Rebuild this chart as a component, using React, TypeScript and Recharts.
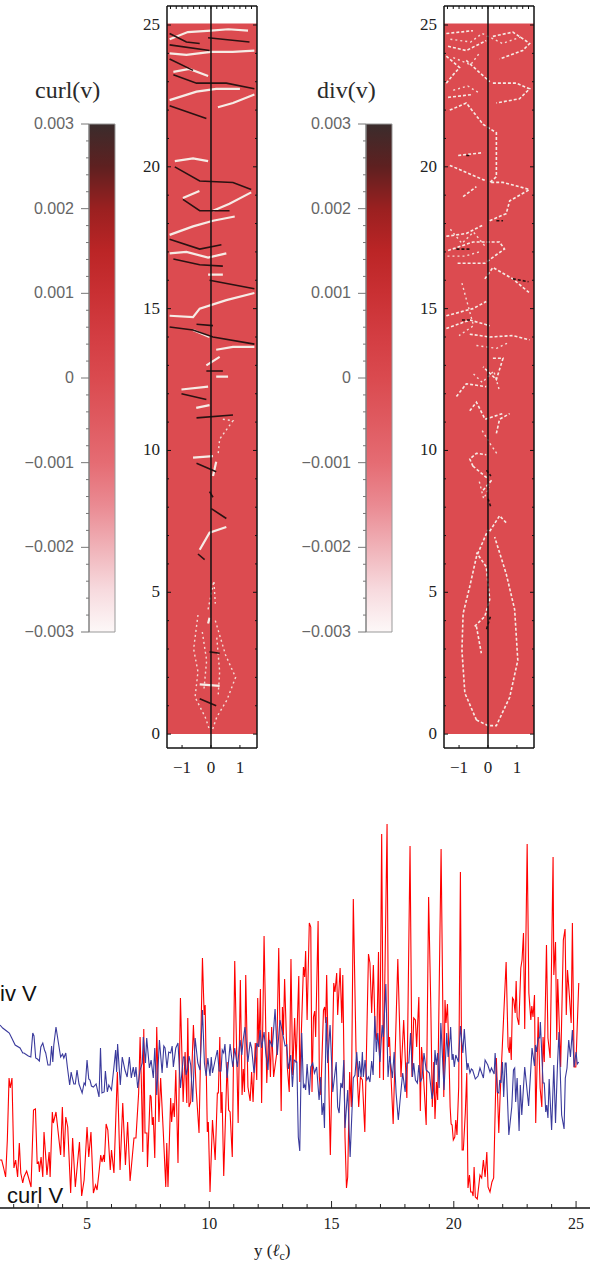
import React from 'react';
import { BarChart, Bar, LineChart, Line, XAxis, YAxis, ReferenceArea, ReferenceLine } from 'recharts';

// bottom chart: position along y (in l_c) and signal height
const curlAt = [1.44,1.51,1.58,1.67,1.74,1.81,1.86,1.93,2.01,2.08,2.16,2.23,2.29,2.37,2.42,2.53,2.6,2.71,2.81,2.89,2.96,3.02,3.05,3.12,3.19,3.24,3.32,3.36,3.45,3.49,3.58,3.62,3.73,3.84,3.92,3.99,4.06,4.13,4.21,4.33,4.41,4.52,4.69,4.78,4.88,5,5.07,5.16,5.26,5.35,5.41,5.49,5.56,5.61,5.68,5.71,5.78,5.85,5.95,6,6.1,6.24,6.35,6.46,6.57,6.66,6.76,6.92,7,7.11,7.17,7.22,7.28,7.32,7.37,7.45,7.47,7.58,7.62,7.67,7.71,7.77,7.85,7.94,8.01,8.12,8.22,8.26,8.31,8.42,8.46,8.52,8.57,8.63,8.72,8.82,8.93,9.01,9.08,9.12,9.17,9.24,9.35,9.46,9.58,9.72,9.79,9.83,9.92,9.96,10.03,10.13,10.24,10.33,10.37,10.43,10.48,10.52,10.59,10.73,10.79,10.85,10.94,11.04,11.18,11.27,11.34,11.39,11.44,11.49,11.58,11.67,11.73,11.79,11.88,11.94,11.98,12.03,12.09,12.14,12.24,12.35,12.43,12.5,12.55,12.63,12.76,12.84,12.94,12.99,13.03,13.08,13.19,13.27,13.34,13.41,13.49,13.55,13.66,13.7,13.85,13.9,13.94,14,14.09,14.15,14.2,14.26,14.31,14.35,14.45,14.5,14.56,14.67,14.72,14.76,14.8,14.87,14.95,15.09,15.14,15.21,15.25,15.35,15.42,15.46,15.55,15.61,15.66,15.74,15.81,15.89,16,16.11,16.18,16.26,16.36,16.51,16.57,16.64,16.71,16.78,16.85,16.92,16.97,17.05,17.12,17.27,17.33,17.37,17.42,17.52,17.71,17.84,17.95,18.08,18.21,18.29,18.36,18.43,18.48,18.57,18.63,18.68,18.73,18.87,18.97,19.06,19.12,19.18,19.23,19.29,19.34,19.48,19.59,19.64,19.68,19.74,19.81,19.85,19.89,19.93,19.98,20.04,20.08,20.13,20.2,20.27,20.34,20.39,20.47,20.53,20.58,20.64,20.69,20.75,20.79,20.83,20.88,20.96,21.07,21.14,21.21,21.28,21.35,21.4,21.48,21.56,21.63,21.74,21.84,21.89,21.99,22.14,22.22,22.27,22.3,22.35,22.4,22.45,22.51,22.55,22.59,22.66,22.74,22.79,22.85,22.9,23,23.07,23.15,23.19,23.24,23.3,23.35,23.45,23.53,23.6,23.65,23.7,23.79,23.85,23.94,24.06,24.09,24.16,24.21,24.25,24.37,24.48,24.55,24.6,24.65,24.73,24.8,24.85,24.92,24.99,25.11];
const curlValues = [48,48,41,31,68,130,120,130,40,48,31,65,35,25,31,37,31,21,98,99,45,46,36,51,31,76,48,33,56,31,96,85,96,71,53,101,51,91,81,15,70,21,66,12,28,81,51,76,15,23,18,36,53,46,53,46,84,78,38,58,35,136,38,105,43,86,27,70,70,115,171,128,56,179,75,75,41,113,111,83,91,50,181,86,130,75,21,65,21,110,86,105,91,138,45,210,106,156,105,190,101,106,183,120,75,250,193,203,76,86,16,88,48,115,115,171,95,116,32,146,98,96,51,247,85,228,113,139,116,233,121,107,136,106,165,128,210,161,219,105,272,125,176,131,181,131,155,260,97,201,173,229,141,116,249,133,190,145,232,126,241,231,257,188,285,281,116,191,197,171,287,131,113,198,201,185,233,145,53,225,216,235,193,240,185,233,71,20,31,136,101,309,158,101,131,128,76,254,245,195,243,178,168,256,130,374,128,384,161,171,138,84,249,131,188,110,362,131,190,188,161,211,97,161,145,83,311,201,101,146,89,126,108,359,111,208,185,204,145,101,84,83,68,71,88,73,121,336,58,58,95,135,20,33,16,16,12,41,11,9,33,30,48,31,56,21,16,26,30,150,75,110,165,246,161,155,171,148,210,208,195,227,191,183,240,248,275,179,364,215,188,202,191,213,85,191,120,101,171,146,263,170,150,351,233,266,168,229,141,268,279,193,238,211,185,285,141,141,225];

const divAt = [1.44,1.55,1.71,1.82,1.92,2.06,2.26,2.37,2.42,2.6,2.7,2.78,2.83,2.9,2.97,3.05,3.11,3.19,3.26,3.31,3.4,3.49,3.55,3.6,3.64,3.73,3.83,3.92,4,4.05,4.13,4.2,4.29,4.35,4.4,4.46,4.52,4.59,4.67,4.8,4.88,4.93,5,5.07,5.12,5.18,5.26,5.37,5.49,5.55,5.61,5.7,5.75,5.83,5.89,6,6.1,6.17,6.21,6.25,6.36,6.44,6.55,6.64,6.73,6.81,6.89,6.95,7,7.07,7.17,7.26,7.3,7.39,7.44,7.55,7.62,7.71,7.77,7.85,7.96,8.07,8.14,8.19,8.27,8.34,8.42,8.48,8.53,8.63,8.72,8.82,8.94,8.99,9.05,9.12,9.17,9.24,9.32,9.42,9.53,9.62,9.72,9.8,9.87,9.94,10.03,10.08,10.13,10.24,10.33,10.4,10.48,10.53,10.59,10.64,10.73,10.85,10.96,11.04,11.15,11.26,11.33,11.39,11.46,11.58,11.67,11.73,11.83,11.94,12.01,12.08,12.14,12.24,12.31,12.4,12.46,12.58,12.69,12.78,12.89,13.03,13.1,13.17,13.23,13.33,13.4,13.47,13.58,13.64,13.7,13.78,13.85,13.9,13.94,14,14.09,14.15,14.23,14.3,14.39,14.49,14.56,14.61,14.67,14.71,14.78,14.84,14.94,15.05,15.19,15.25,15.31,15.38,15.44,15.5,15.55,15.66,15.76,15.89,15.96,16.03,16.1,16.14,16.21,16.26,16.3,16.37,16.44,16.51,16.57,16.64,16.7,16.77,16.83,16.89,16.98,17.07,17.12,17.22,17.31,17.38,17.49,17.56,17.64,17.73,17.83,17.91,18.01,18.08,18.16,18.23,18.31,18.36,18.43,18.51,18.57,18.63,18.7,18.78,18.87,19,19.11,19.17,19.23,19.28,19.34,19.4,19.47,19.6,19.71,19.77,19.85,19.87,19.93,19.97,20.02,20.08,20.19,20.27,20.37,20.43,20.54,20.58,20.66,20.72,20.77,20.88,20.99,21.07,21.21,21.28,21.39,21.48,21.54,21.65,21.69,21.78,21.84,21.88,21.93,21.99,22.04,22.1,22.14,22.25,22.37,22.44,22.49,22.53,22.59,22.67,22.72,22.78,22.9,23.06,23.2,23.3,23.34,23.38,23.45,23.51,23.54,23.65,23.7,23.76,23.8,23.85,23.9,24,24.09,24.16,24.24,24.3,24.41,24.51,24.56,24.63,24.7,24.77,24.85,24.92,25,25.05,25.11];
const divValues = [183,180,177,175,170,163,160,155,155,152,151,175,172,150,149,147,161,165,158,155,143,143,162,146,163,181,165,151,154,150,155,140,123,136,130,124,124,138,124,115,125,123,148,129,128,122,121,124,111,160,115,116,137,116,123,118,141,158,136,164,123,151,138,131,151,130,141,131,141,120,138,145,171,145,170,140,148,130,160,113,168,135,162,160,140,156,155,162,141,160,165,120,151,151,133,140,152,143,106,170,145,138,198,145,132,150,132,151,135,148,158,137,137,158,155,164,130,164,141,160,141,168,153,169,181,146,166,160,135,165,161,178,160,176,155,138,168,161,199,153,188,171,162,163,139,153,121,148,146,71,57,175,120,123,118,144,113,141,145,135,141,108,131,93,105,80,191,145,183,116,146,101,95,125,120,148,80,118,51,130,133,156,131,147,131,156,131,148,128,131,126,147,133,192,156,175,146,183,171,224,131,152,130,156,115,88,115,135,116,145,145,175,131,145,128,125,143,126,130,155,138,135,109,118,158,143,155,120,185,118,175,151,171,181,148,154,141,153,146,182,155,179,138,145,135,139,138,129,132,140,130,148,143,136,140,134,155,116,115,128,125,146,111,145,145,73,101,138,140,106,130,77,123,93,141,102,160,142,163,156,170,170,186,125,125,96,103,90,129,78,143,85,143,176,93,79,130,140,168,151,178,141,156,144,146];

const lineTicks = [2,3,4,5,6,7,8,9,10,11,12,13,14,15,16,17,18,19,20,21,22,23,24,25];
const lineLabels = [5,10,15,20,25];

// colour bars
const barTicks = [-0.003,-0.0028,-0.0026,-0.0024,-0.0022,-0.002,-0.0018,-0.0016,-0.0014,-0.0012,-0.001,-0.0008,-0.0006,-0.0004,-0.0002,0,0.0002,0.0004,0.0006,0.0008,0.001,0.0012,0.0014,0.0016,0.0018,0.002,0.0022,0.0024,0.0026,0.0028,0.003];
const barLabels = [-0.003,-0.002,-0.001,0,0.001,0.002,0.003];
const barStops = ['#3a2c2c','#5e2020','#9a2020','#bb2526','#c93033','#d33d42','#da4a4f','#df5a60','#e56c73','#ea8a92','#f0b2b8','#f7dade','#fdf8f8'];

// map panels: transverse x and y (l_c)
const panelYTicks = [0,1,2,3,4,5,6,7,8,9,10,11,12,13,14,15,16,17,18,19,20,21,22,23,24,25];
const panelYLabels = [0,5,10,15,20,25];
const panelXLabels = [-1,0,1];
const panelTopTicks = [-1.4,-1.2,-1,-0.8,-0.6,-0.4,-0.2,0,0.2,0.4,0.6,0.8,1,1.2,1.4];

const curlBright = [
  [[-1.43,24.5],[-0.8,24.75],[0,24.8],[0.6,24.85],[1.28,24.8]],
  [[-1.43,24.0],[-0.85,23.95],[0,24.05],[0.75,24.05],[1.5,24.1]],
  [[-1.3,23.35],[-0.75,23.45],[-0.1,23.2]],
  [[-1.43,22.35],[-0.5,22.65],[0.18,22.75],[1,22.75]],
  [[0.24,22.1],[0.76,22.25],[1.5,22.55]],
  [[-1.25,20.2],[-0.62,20.3],[-0.1,20.2]],
  [[-0.97,18.9],[-0.4,19.15]],
  [[0.07,18.45],[0.64,18.7],[1.39,19.1]],
  [[-1.43,17.6],[-0.62,17.9],[0.07,18.1],[0.82,18.25]],
  [[-1.43,16.95],[-0.85,17],[-0.1,16.8],[0.53,16.95]],
  [[-0.1,16.2],[0.41,16.2]],
  [[-1.43,14.75],[-0.62,14.7],[-0.39,15],[0.53,15.3],[1.5,15.55]],
  [[-0.62,14.25],[-0.05,14]],
  [[0.18,13.55],[0.76,13.65],[1.5,13.65]],
  [[-0.16,13],[0.3,13.3]],
  [[0.18,12.6],[0.59,12.6]],
  [[-1.02,12.15],[-0.1,12.25]],
  [[-0.51,11.5],[-0.05,11.6]],
  [[-0.62,9.75],[0.07,9.8]],
  [[0.07,9.1],[0.18,9.6]],
  [[-0.39,6.5],[-0.05,7.1],[0.53,7.3]],
  [[-0.1,3.9],[-0.05,4.1]],
  [[-0.39,1.75],[0.3,1.7]],
];
const curlSpeckle = [
  [[0.41,11.1],[0.76,11.05],[0.3,10.4],[0.25,9.9]],
  [[-0.1,4.4],[0.1,5.4],[0.15,4.6]],
  [[-0.45,4.2],[-0.6,3],[-0.45,2.2],[-0.55,1.3],[-0.2,0.6],[-0.05,0.15]],
  [[0.15,4],[0.5,2.8],[0.85,2],[0.55,1.2],[0.2,0.6],[0.05,0.15]],
  [[-0.3,3.6],[-0.15,2.6],[-0.25,1.5]],
  [[0.2,3.4],[0.3,2.2],[0.25,1.4]],
];
const curlDark = [
  [[-1.43,24.7],[-0.85,24.4],[-0.39,24.35]],
  [[-0.1,24.55],[1.33,24.4]],
  [[-1.43,24.3],[-0.05,24.1]],
  [[-1.43,23.8],[-0.62,23.4]],
  [[-1.3,23.25],[-0.5,22.95],[0.53,22.95],[1.5,22.75]],
  [[-1.43,22.15],[-0.16,21.7]],
  [[-1.25,20],[-0.39,19.5],[0.76,19.45],[1.39,19.2]],
  [[-0.97,18.85],[-0.39,18.45],[0.64,18.45]],
  [[-1.43,17.45],[-0.39,17.1],[0.36,17.25]],
  [[-1.3,16.75],[-0.39,16.55],[0.41,16.5]],
  [[-0.05,16],[1.5,15.7]],
  [[-1.43,14.35],[-0.62,14.25],[0.07,14],[1.5,13.75]],
  [[-0.5,14.45],[0.07,14.4]],
  [[-0.16,12.8],[0.41,12.8]],
  [[-1.02,12],[-0.16,11.8]],
  [[-0.5,11.15],[0.76,11.25]],
  [[-0.5,9.55],[0.18,9.25]],
  [[-0.05,8.55],[0.07,8.35]],
  [[0.01,7.95],[0.53,7.6]],
  [[-0.45,6.35],[-0.22,6.15]],
  [[-0.05,2.9],[0.3,2.85]],
  [[-0.39,1.25],[0.18,1]],
];

const divBright = [
  [[-1.44,24.7],[-0.52,24.8]],
  [[-1.38,24.25],[-0.75,24.1],[-0.06,24.45]],
  [[0.17,24.6],[0.86,24.75],[1.44,24.35],[1.2,24.1],[0.4,23.8]],
  [[-1.44,23.9],[-0.98,23.5],[-1.2,23.25],[-1.44,22.95]],
  [[-0.75,23.75],[0.06,23]],
  [[0.17,22.95],[0.98,22.95],[1.44,22.75],[1.09,22.4],[0.29,22.25]],
  [[-1.38,22.45],[-0.52,22.55]],
  [[-1.32,22],[-0.75,22.25],[-0.17,21.5],[0.29,21.2],[0.29,19.65],[0.06,19.45],[0.52,19.45],[1.44,19.2]],
  [[-1.03,20.4],[-0.17,20.5]],
  [[-1.32,20.05],[-0.63,19.75],[-0.06,19.5]],
  [[-0.86,18.95],[-0.4,19.3]],
  [[0.06,18.1],[0.63,18.35],[0.75,18.8],[1.44,19.2]],
  [[-1.44,17.55],[-0.75,17.65],[-0.17,17.95]],
  [[-1.38,17.05],[-0.52,17.35],[0.4,17.35],[0.57,17.1],[0.29,16.9],[-0.11,16.6],[-1.09,16.6]],
  [[-0.11,16.05],[0.17,16.45],[0.86,16.05],[1.44,15.55]],
  [[-1.44,14.75],[-0.52,15],[-0.06,15.25]],
  [[-1.44,14.3],[-0.63,14.6],[0.06,14.4]],
  [[-0.63,14.1],[0.06,14],[0.86,14.05],[1.44,13.9]],
  [[0.17,13.25],[0.52,13.25],[0.29,12.5],[-0.17,12.95]],
  [[-1.09,11.9],[-0.75,12.35],[-0.06,12.25]],
  [[-0.63,11.4],[-0.4,11.7],[-0.1,11.1],[0.5,11.3]],
  [[0.29,10.6],[0.4,11.1],[0.75,11.3]],
  [[-0.52,9.45],[-0.63,9.7],[-0.4,9.9],[-0.06,9.85]],
  [[-0.52,9.45],[0,9]],
  [[-0.17,8.6],[0.17,9]],
  [[0.06,7.15],[0.4,7.7],[0.63,7.45]],
  [[-0.4,0.5],[-0.8,1.45],[-0.9,2.95],[-0.86,4.25],[-0.63,5.2],[-0.4,6.25],[0,7.2]],
  [[-0.4,0.5],[0,0.3],[0.29,0.3],[0.75,1.3],[1.03,2.6],[0.92,4.4],[0.63,5.65],[0.23,6.95]],
  [[-0.46,3.8],[-0.11,4.15],[0.06,4.75],[-0.06,5.9],[-0.4,6.4]],
  [[-0.4,3.8],[-0.23,2.85]],
];
const divSpeckle = [
  [[-1.3,24.5],[-0.6,24.4],[-0.2,24.7],[0.5,24.35],[1.2,24.6]],
  [[-1.2,23.85],[-0.6,23.6],[-0.3,24]],
  [[-1.2,22.7],[-0.7,22.85],[-0.3,22.6]],
  [[-1.3,17.8],[-0.9,17.3],[-0.5,17.7],[-0.1,17.2]],
  [[-1.4,16.85],[-0.8,16.85],[-0.3,17]],
  [[-0.9,15.9],[-0.5,14.4],[-1,14.05]],
  [[-0.4,13.7],[0.3,13.6],[0.7,13.8]],
  [[-0.5,12.7],[-0.2,12.4],[0.2,12.8],[0.4,12.1]],
  [[-0.2,10.7],[0.1,10.2],[0.3,9.9]],
  [[-0.3,8.9],[-0.15,8.3],[0.05,8.7]],
];
const divDark = [
  [[-1.09,17.1],[-0.63,17.1]],
  [[-0.75,20.4],[-0.58,20.4]],
  [[0.29,18.1],[0.52,18.1]],
  [[0.86,16.05],[1.4,15.95]],
  [[-0.9,14.6],[-0.6,14.6]],
  [[-0.05,9.3],[0.1,9.1]],
  [[0,8.3],[0.1,8]],
  [[-0.05,3.7],[0.1,4.2]],
];

const serif = '"Liberation Serif", serif';
const sans = '"Liberation Sans", sans-serif';

// segments to one table, a null row breaks the line
const toRows = (segments: number[][][]) =>
  segments.flatMap((seg) => [
    ...seg.map(([u, v]) => ({ u, v })),
    { u: seg[seg.length - 1][0], v: null as number | null },
  ]);

const zip = (at: number[], values: number[]) => at.map((y, i) => ({ y, value: values[i] }));

const curlRows = zip(curlAt, curlValues);
const divRows = zip(divAt, divValues);

function LineTick({ x, y, payload }: any) {
  const major = lineLabels.includes(payload.value);
  return (
    <g>
      <line x1={x} x2={x} y1={y} y2={y - (major ? 7 : 4)} stroke="#222" strokeWidth={1} />
      {major && (
        <text x={x} y={y + 21} textAnchor="middle" fontFamily={serif} fontSize={16} fill="#222">
          {payload.value}
        </text>
      )}
    </g>
  );
}

function PanelLeftTick({ x, y, payload }: any) {
  const major = panelYLabels.includes(payload.value);
  return (
    <g>
      <line x1={x} x2={x + (major ? 4 : 2)} y1={y} y2={y} stroke="#111" strokeWidth={1} />
      {major && (
        <text x={x - 7} y={y + 5} textAnchor="end" fontFamily={serif} fontSize={17} fill="#222">
          {payload.value}
        </text>
      )}
    </g>
  );
}

function PanelRightTick({ x, y, payload }: any) {
  return <line x1={x} x2={x - (panelYLabels.includes(payload.value) ? 4 : 2)} y1={y} y2={y} stroke="#111" strokeWidth={1} />;
}

function PanelBottomTick({ x, y, payload }: any) {
  return (
    <g>
      <line x1={x} x2={x} y1={y} y2={y - 3} stroke="#111" strokeWidth={1} />
      <text x={x} y={y + 25} textAnchor="middle" fontFamily={serif} fontSize={17} fill="#222">
        {payload.value < 0 ? `\u2212${-payload.value}` : payload.value}
      </text>
    </g>
  );
}

function PanelTopTick({ x, y }: any) {
  return <line x1={x} x2={x} y1={y} y2={y + 3} stroke="#111" strokeWidth={1} />;
}

function BarTick({ x, y, payload }: any) {
  const major = barLabels.some((m) => Math.abs(m - payload.value) < 1e-7);
  const v = payload.value;
  const text = Math.abs(v) < 1e-7 ? '0' : `${v < 0 ? '\u2212' : ''}${Math.abs(v).toFixed(3)}`;
  return (
    <g>
      <line x1={x} x2={x - (major ? 8 : 3)} y1={y} y2={y} stroke="#777" strokeWidth={1} />
      {major && (
        <text x={x - 15} y={y + 5} textAnchor="end" fontFamily={sans} fontSize={16} fill="#666">
          {text}
        </text>
      )}
    </g>
  );
}

function ColorBar({ left, id, title, titleLeft }: { left: number; id: string; title: string; titleLeft: number }) {
  return (
    <>
      <div style={{ position: 'absolute', left: titleLeft, top: 76, fontFamily: serif, fontSize: 24, color: '#2a2a2a', lineHeight: '28px' }}>
        {title}
      </div>
      <div style={{ position: 'absolute', left, top: 0 }}>
        <BarChart
          width={118}
          height={640}
          data={[{ name: id, range: [-0.003, 0.003] }]}
          margin={{ top: 124, right: 3, bottom: 8, left: 0 }}
          barCategoryGap={0}
        >
          <defs>
            <linearGradient id={id} x1="0" y1="0" x2="0" y2="1">
              {barStops.map((c, i) => (
                <stop key={c} offset={i / (barStops.length - 1)} stopColor={c} />
              ))}
            </linearGradient>
          </defs>
          <XAxis dataKey="name" hide />
          <YAxis
            width={89}
            domain={[-0.003, 0.003]}
            ticks={barTicks}
            interval={0}
            tickSize={0}
            tickMargin={0}
            tick={<BarTick />}
            axisLine={{ stroke: '#777' }}
          />
          <Bar dataKey="range" fill={`url(#${id})`} stroke="#999" strokeWidth={1} isAnimationActive={false} />
        </BarChart>
      </div>
    </>
  );
}

function Panel({ left, bright, dark, speckle, dash }: { left: number; bright: number[][][]; dark: number[][][]; speckle: number[][][]; dash?: string }) {
  return (
    <div style={{ position: 'absolute', left, top: 0 }}>
      <LineChart width={129} height={790} margin={{ top: 5, right: 1, bottom: 0, left: 0 }}>
        <XAxis
          xAxisId="b"
          dataKey="u"
          type="number"
          domain={[-1.52, 1.59]}
          ticks={panelXLabels}
          interval={0}
          height={42}
          tickSize={0}
          tickMargin={0}
          tick={<PanelBottomTick />}
          axisLine={{ stroke: '#111', strokeWidth: 1.5 }}
          allowDataOverflow
        />
        <XAxis
          xAxisId="t"
          orientation="top"
          dataKey="u"
          type="number"
          domain={[-1.52, 1.59]}
          ticks={panelTopTicks}
          interval={0}
          height={1}
          tickSize={0}
          tickMargin={0}
          tick={<PanelTopTick />}
          axisLine={{ stroke: '#111', strokeWidth: 1.5 }}
          allowDataOverflow
        />
        <YAxis
          yAxisId="l"
          type="number"
          domain={[-0.49, 25.67]}
          ticks={panelYTicks}
          interval={0}
          width={37}
          tickSize={0}
          tickMargin={0}
          tick={<PanelLeftTick />}
          axisLine={{ stroke: '#111', strokeWidth: 1.5 }}
          allowDataOverflow
        />
        <YAxis
          yAxisId="r"
          orientation="right"
          type="number"
          domain={[-0.49, 25.67]}
          ticks={panelYTicks}
          interval={0}
          width={1}
          tickSize={0}
          tickMargin={0}
          tick={<PanelRightTick />}
          axisLine={{ stroke: '#111', strokeWidth: 1.5 }}
          allowDataOverflow
        />
        <ReferenceArea xAxisId="b" yAxisId="l" x1={-1.52} x2={1.59} y1={0} y2={25.05} fill="#dc4b50" fillOpacity={1} stroke="none" />
        <Line xAxisId="b" yAxisId="l" data={toRows(speckle)} dataKey="v" stroke="#f3dcd6" strokeWidth={1.4} strokeDasharray="2 3" dot={false} isAnimationActive={false} />
        <Line xAxisId="b" yAxisId="l" data={toRows(bright)} dataKey="v" stroke="#f6ece6" strokeWidth={dash ? 1.6 : 2.2} strokeDasharray={dash} dot={false} isAnimationActive={false} />
        <Line xAxisId="b" yAxisId="l" data={toRows(dark)} dataKey="v" stroke="#2a1212" strokeWidth={1.6} strokeDasharray={dash} dot={false} isAnimationActive={false} />
        <ReferenceLine xAxisId="b" yAxisId="l" x={0} stroke="#111" strokeWidth={1.5} />
      </LineChart>
    </div>
  );
}

export default function App() {
  return (
    <div style={{ position: 'absolute', left: 0, top: 0, width: 600, height: 1262, overflow: 'hidden', background: '#fff' }}>
      <ColorBar left={0} id="curlGrad" title="curl(v)" titleLeft={35} />
      <Panel left={130} bright={curlBright} dark={curlDark} speckle={curlSpeckle} />
      <ColorBar left={277} id="divGrad" title="div(v)" titleLeft={317} />
      <Panel left={407} bright={divBright} dark={divDark} speckle={divSpeckle} dash="3 2" />

      <div style={{ position: 'absolute', left: 0, top: 808 }}>
        <LineChart width={591} height={454} margin={{ top: 0, right: 1, bottom: 0, left: 0 }}>
          <XAxis
            dataKey="y"
            type="number"
            domain={[1.44, 25.57]}
            ticks={lineTicks}
            interval={0}
            height={54}
            tickSize={0}
            tickMargin={0}
            tick={<LineTick />}
            axisLine={{ stroke: '#111', strokeWidth: 1.5 }}
            allowDataOverflow
          />
          <YAxis type="number" domain={[0, 400]} hide allowDataOverflow />
          <Line data={curlRows} dataKey="value" stroke="#ff0000" strokeWidth={1.1} dot={false} isAnimationActive={false} />
          <Line data={divRows} dataKey="value" stroke="#3a3a9c" strokeWidth={1.1} dot={false} isAnimationActive={false} />
        </LineChart>
      </div>

      <div style={{ position: 'absolute', left: 0, top: 981, fontFamily: sans, fontSize: 22, lineHeight: '26px', color: '#111', whiteSpace: 'pre' }}>iv V</div>
      <div style={{ position: 'absolute', left: 7, top: 1183, fontFamily: sans, fontSize: 22, lineHeight: '26px', color: '#111', whiteSpace: 'pre' }}>curl V</div>
      <div style={{ position: 'absolute', left: 254, top: 1241, fontFamily: serif, fontSize: 17, lineHeight: '20px', color: '#222', whiteSpace: 'pre' }}>
        y (<i>{'\u2113'}</i>
        <sub style={{ fontSize: 12, lineHeight: 0 }}>c</sub>)
      </div>
    </div>
  );
}
